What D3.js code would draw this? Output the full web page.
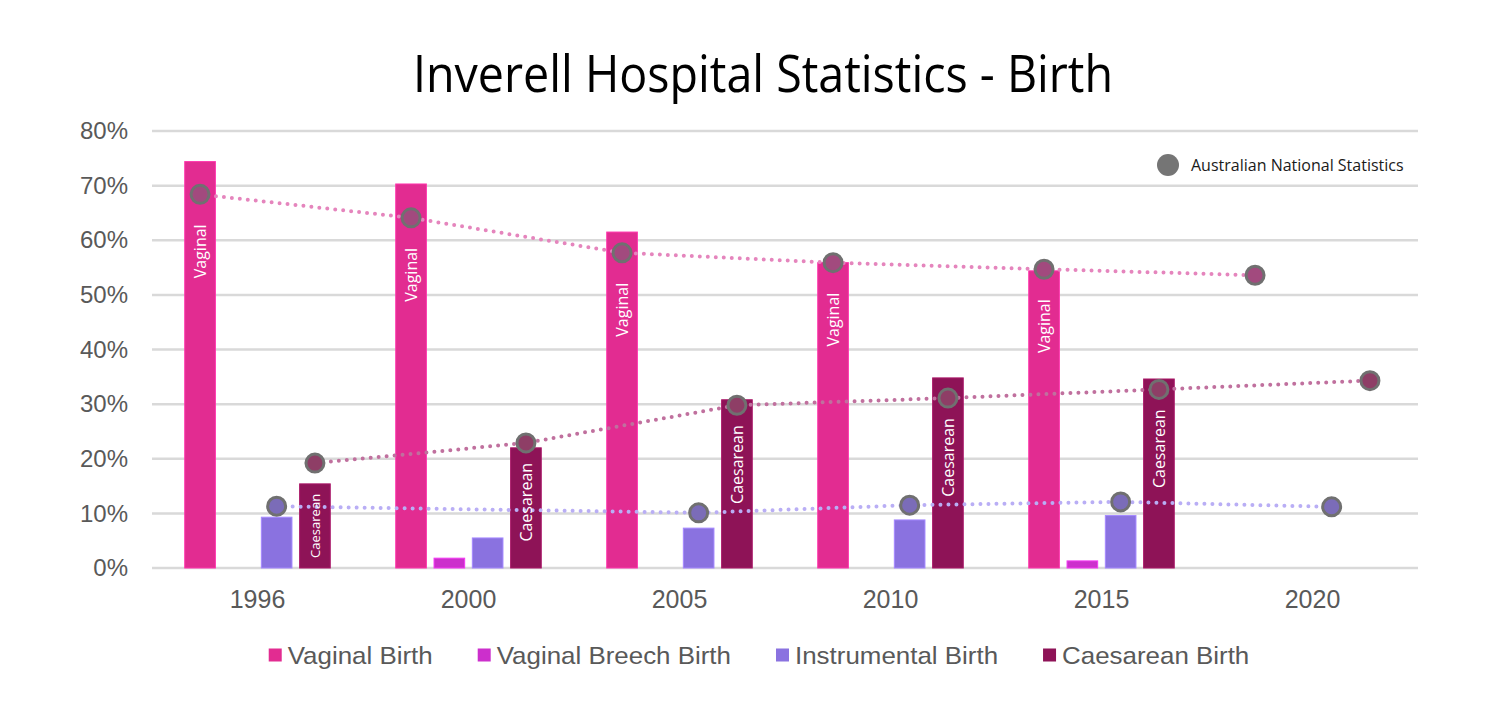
<!DOCTYPE html>
<html>
<head>
<meta charset="utf-8">
<script src="https://cdn.jsdelivr.net/npm/d3@7"></script>
<style>
  body { margin: 0; background: #fff; }
  svg { display: block; }
</style>
</head>
<body>
<script>
// Chart data
const years = ['1996', '2000', '2005', '2010', '2015', '2020'];
const seriesNames = ['Vaginal Birth', 'Vaginal Breech Birth', 'Instrumental Birth', 'Caesarean Birth'];
const vaginal = [74.4, 70.3, 61.5, 55.9, 54.4, null];
const breech = [0, 1.8, 0, 0, 1.3, null];
const instrumental = [9.3, 5.5, 7.3, 8.8, 9.6, null];
const caesarean = [15.4, 22.0, 30.8, 34.8, 34.6, null];
// Australian national statistics (dots + dotted lines)
const natVaginal = [68.4, 64.1, 57.7, 55.9, 54.7, 53.6];
const natInstrumental = [11.3, null, 10.1, 11.5, 12.1, 11.2];
const natCaesarean = [19.2, 22.9, 29.8, 31.1, 32.7, 34.3];
const yTicks = [0, 10, 20, 30, 40, 50, 60, 70, 80];

const colors = {
    'Vaginal Birth': '#e22c91',
    'Vaginal Breech Birth': '#cc2fcc',
    'Instrumental Birth': '#8a72e0',
    'Caesarean Birth': '#8e1357'
};

const W = 1500, H = 708;
const svg = d3.select('body').append('svg')
    .attr('width', W)
    .attr('height', H);

// Title
svg.append('text')
    .attr('x', 763)
    .attr('y', 92)
    .attr('text-anchor', 'middle')
    .attr('font-family', 'Open Sans')
    .attr('font-size', 52)
    .attr('textLength', 700)
    .attr('lengthAdjust', 'spacingAndGlyphs')
    .attr('fill', '#000')
    .text('Inverell Hospital Statistics - Birth');

// Scales
const x0 = d3.scaleBand().domain(years).range([152, 1418]).padding(0);
const x1 = d3.scaleBand().domain(seriesNames).range([0, x0.bandwidth()])
    .paddingInner(0.2).paddingOuter(0.855);
const y = d3.scaleLinear().domain([0, 80]).range([568, 131]);

// Gridlines
svg.append('g')
    .selectAll('line')
    .data(yTicks)
    .join('line')
    .attr('x1', 152)
    .attr('x2', 1418)
    .attr('y1', d => y(d))
    .attr('y2', d => y(d))
    .attr('stroke', '#d9d9d9')
    .attr('stroke-width', 2.5);

// Y axis labels
const yAxis = svg.append('g')
    .attr('transform', 'translate(140,0)')
    .call(d3.axisLeft(y).tickValues(yTicks).tickSize(0).tickPadding(12).tickFormat(d => d + '%'));
yAxis.select('.domain').remove();
yAxis.selectAll('text')
    .attr('font-family', 'Liberation Sans, Arial, sans-serif')
    .attr('font-size', 24)
    .attr('fill', '#595959');

// X axis labels
const xAxis = svg.append('g')
    .attr('transform', 'translate(0,568)')
    .call(d3.axisBottom(x0).tickSize(0).tickPadding(22));
xAxis.select('.domain').remove();
xAxis.selectAll('text')
    .attr('font-family', 'Liberation Sans, Arial, sans-serif')
    .attr('font-size', 25)
    .attr('fill', '#595959');

// Bars
const valuesBySeries = {
    'Vaginal Birth': vaginal,
    'Vaginal Breech Birth': breech,
    'Instrumental Birth': instrumental,
    'Caesarean Birth': caesarean
};
const natBySeries = {
    'Vaginal Birth': natVaginal,
    'Instrumental Birth': natInstrumental,
    'Caesarean Birth': natCaesarean
};
const barData = [];
years.forEach((yr, i) => {
    seriesNames.forEach(s => {
        const v = valuesBySeries[s][i];
        if (v !== null && v > 0) barData.push({ year: yr, idx: i, series: s, value: v });
    });
});

svg.append('g')
    .selectAll('rect')
    .data(barData)
    .join('rect')
    .attr('x', d => x0(d.year) + x1(d.series))
    .attr('y', d => y(d.value))
    .attr('width', x1.bandwidth())
    .attr('height', d => y(0) - y(d.value))
    .attr('fill', d => colors[d.series])
    .attr('stroke', d => d3.color(colors[d.series]).brighter(0.5))
    .attr('stroke-width', 1);

// National statistics lines + dots
const natSeries = [
    { series: 'Vaginal Birth', values: natVaginal, line: '#e585bd', dot: '#a24a7e' },
    { series: 'Instrumental Birth', values: natInstrumental, line: '#b9aef5', dot: '#7b6cb8' },
    { series: 'Caesarean Birth', values: natCaesarean, line: '#c0709e', dot: '#8e3e66' }
];

const line = d3.line()
    .x(d => d.x)
    .y(d => d.y);

natSeries.forEach(ns => {
    const pts = years.map((yr, i) => ({
        x: x0(yr) + x1(ns.series) + x1.bandwidth() / 2,
        y: ns.values[i] === null ? null : y(ns.values[i]),
        v: ns.values[i]
    })).filter(p => p.v !== null);

    svg.append('path')
        .datum(pts)
        .attr('d', line)
        .attr('fill', 'none')
        .attr('stroke', ns.line)
        .attr('stroke-width', 4)
        .attr('stroke-linecap', 'round')
        .attr('stroke-dasharray', '0 8');

    ns.pts = pts;
});

natSeries.forEach(ns => {
    svg.append('g')
        .selectAll('circle')
        .data(ns.pts)
        .join('circle')
        .attr('cx', d => d.x)
        .attr('cy', d => d.y)
        .attr('r', 9)
        .attr('fill', ns.dot)
        .attr('stroke', '#707070')
        .attr('stroke-width', 3);
});

// Labels inside the bars, placed just under the national dot
const labelInfo = {
    'Vaginal Birth': { text: 'Vaginal', offset: 30 },
    'Caesarean Birth': { text: 'Caesarean', offset: 20 }
};
svg.append('g')
    .selectAll('text')
    .data(barData.filter(d => labelInfo[d.series]))
    .join('text')
    .each(function (d) {
        const info = labelInfo[d.series];
        const cx = x0(d.year) + x1(d.series) + x1.bandwidth() / 2;
        const barTop = y(d.value);
        const barH = y(0) - barTop;
        const sel = d3.select(this)
            .attr('text-anchor', 'end')
            .attr('dominant-baseline', 'central')
            .attr('font-family', 'Open Sans')
            .attr('font-size', 16)
            .attr('fill', '#fff')
            .text(info.text);
        let fs = 16;
        const len16 = this.getComputedTextLength();
        if (len16 > barH - 20) fs = 16 * (barH - 20) / len16;
        const len = len16 * fs / 16;
        let top = Math.max(y(natBySeries[d.series][d.idx]) + info.offset, barTop + 10);
        top = Math.min(top, y(0) - 10 - len);
        sel.attr('font-size', fs)
            .attr('transform', `translate(${cx},${top}) rotate(-90)`);
    });

// Top-right legend
svg.append('circle')
    .attr('cx', 1168)
    .attr('cy', 165)
    .attr('r', 11)
    .attr('fill', '#757575');
svg.append('text')
    .attr('x', 1191)
    .attr('y', 171)
    .attr('font-family', 'Open Sans')
    .attr('font-size', 16)
    .attr('fill', '#1a1a1a')
    .text('Australian National Statistics');

// Bottom legend
const legend = svg.append('g');
let lx = 0;
seriesNames.forEach(s => {
    const item = legend.append('g').attr('transform', `translate(${lx},0)`);
    item.append('rect')
        .attr('x', 0)
        .attr('y', -6.5)
        .attr('width', 13)
        .attr('height', 13)
        .attr('fill', colors[s]);
    const t = item.append('text')
        .attr('transform', 'translate(19,8.5) scale(1.08,1)')
        .attr('font-family', 'Liberation Sans, Arial, sans-serif')
        .attr('font-size', 24)
        .attr('fill', '#595959')
        .text(s);
    lx += 19 + t.node().getComputedTextLength() * 1.08 + 45;
});
const legendW = lx - 45;
legend.attr('transform', `translate(${759 - legendW / 2},655)`);
</script>
</body>
</html>
